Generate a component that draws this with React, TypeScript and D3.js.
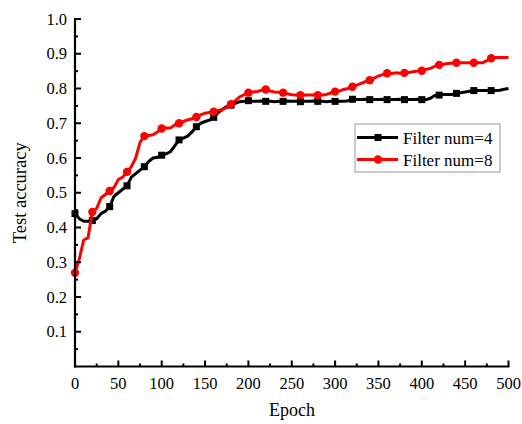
import React from "react";
import * as d3 from "d3";

const epochs: number[] = d3.range(0, 501, 5);

const filter4: number[] = [
  0.44, 0.425, 0.418, 0.418, 0.42, 0.425, 0.44, 0.447, 0.46, 0.49,
  0.5, 0.51, 0.52, 0.545, 0.555, 0.565, 0.575, 0.59, 0.6, 0.602,
  0.608, 0.612, 0.618, 0.635, 0.652, 0.657, 0.663, 0.675, 0.69, 0.7,
  0.705, 0.709, 0.717, 0.73, 0.74, 0.748, 0.752, 0.757, 0.762, 0.763,
  0.765, 0.763, 0.763, 0.764, 0.763, 0.763, 0.762, 0.763, 0.763, 0.764,
  0.763, 0.763, 0.762, 0.763, 0.763, 0.764, 0.763, 0.763, 0.762, 0.763,
  0.763, 0.763, 0.763, 0.765, 0.769, 0.768, 0.768, 0.769, 0.768, 0.768,
  0.768, 0.769, 0.768, 0.768, 0.768, 0.769, 0.768, 0.768, 0.768, 0.769,
  0.768, 0.768, 0.772, 0.78, 0.781, 0.783, 0.783, 0.783, 0.786, 0.788,
  0.79, 0.792, 0.794, 0.794, 0.794, 0.794, 0.794, 0.794, 0.795, 0.798,
  0.8,
];

const filter8: number[] = [
  0.27, 0.31, 0.364, 0.37, 0.445, 0.455, 0.485, 0.495, 0.505, 0.515,
  0.538, 0.545, 0.56, 0.575, 0.6, 0.645, 0.663, 0.665, 0.667, 0.675,
  0.685, 0.686, 0.686, 0.695, 0.7, 0.705, 0.71, 0.713, 0.718, 0.724,
  0.729, 0.731, 0.733, 0.737, 0.74, 0.745, 0.755, 0.765, 0.776, 0.782,
  0.788, 0.79, 0.791, 0.795, 0.797, 0.793, 0.79, 0.789, 0.788, 0.785,
  0.782, 0.781, 0.781, 0.781, 0.781, 0.781, 0.781, 0.781, 0.783, 0.787,
  0.791, 0.793, 0.797, 0.8, 0.805, 0.81, 0.815, 0.82, 0.824, 0.83,
  0.836, 0.84, 0.844, 0.843, 0.845, 0.844, 0.845, 0.846, 0.848, 0.85,
  0.851, 0.855, 0.858, 0.864, 0.868, 0.87, 0.872, 0.873, 0.874, 0.874,
  0.874, 0.874, 0.874, 0.874, 0.874, 0.88, 0.887, 0.889, 0.889, 0.889,
  0.889,
];

const seriesNames: string[] = ["Filter num=4", "Filter num=8"];
const xTicks: number[] = d3.range(0, 501, 50);
const yTicks: number[] = d3.range(1, 11).map((d) => d / 10);
const xMinor: number[] = d3.range(25, 500, 50);
const yMinor: number[] = d3.range(0, 10).map((d) => d / 10 + 0.05);

const W = 522;
const H = 424;
const left = 75;
const right = 508.5;
const top = 19;
const bottom = 366.5;
const font = "'Liberation Serif', 'Times New Roman', serif";

export default function App() {
  const x = d3.scaleLinear().domain([0, 500]).range([left, right]);
  const y = d3.scaleLinear().domain([0, 1]).range([bottom, top]);
  const line = d3
    .line<number>()
    .x((_, i) => x(epochs[i]))
    .y((d) => y(d));

  const markerIdx = epochs.map((e, i) => (e % 20 === 0 && e <= 480 ? i : -1)).filter((i) => i >= 0);

  const legendX = 355;
  const legendY = 124;

  return (
    <svg
      width={W}
      height={H}
      style={{ position: "absolute", left: 0, top: 0, background: "#fff" }}
      fontFamily={font}
    >
      {/* series */}
      <path d={line(filter4) || ""} fill="none" stroke="#000" strokeWidth={3} strokeLinejoin="round" />
      {markerIdx.map((i) => (
        <rect key={"b" + i} x={x(epochs[i]) - 3.5} y={y(filter4[i]) - 3.5} width={7} height={7} fill="#000" />
      ))}
      <path d={line(filter8) || ""} fill="none" stroke="#ff0000" strokeWidth={3} strokeLinejoin="round" />
      {markerIdx.map((i) => (
        <circle key={"r" + i} cx={x(epochs[i])} cy={y(filter8[i])} r={4.2} fill="#ff0000" />
      ))}

      {/* axes */}
      <line x1={left} x2={left} y1={top - 1} y2={bottom + 1} stroke="#000" strokeWidth={2.2} />
      <line x1={left - 1} x2={right + 1} y1={bottom} y2={bottom} stroke="#000" strokeWidth={2.2} />
      {xTicks.map((t) => (
        <g key={"xt" + t}>
          {t > 0 && <line x1={x(t)} x2={x(t)} y1={bottom} y2={bottom - 6} stroke="#000" strokeWidth={2} />}
          <text x={x(t)} y={bottom + 22} textAnchor="middle" fontSize={16.5}>
            {t}
          </text>
        </g>
      ))}
      {xMinor.map((t) => (
        <line key={"xm" + t} x1={x(t)} x2={x(t)} y1={bottom} y2={bottom - 3} stroke="#000" strokeWidth={2} />
      ))}
      {yTicks.map((t) => (
        <g key={"yt" + t}>
          <line x1={left} x2={left + 6} y1={y(t)} y2={y(t)} stroke="#000" strokeWidth={2} />
          <text x={67} y={y(t) + 5.5} textAnchor="end" fontSize={16.5}>
            {t.toFixed(1)}
          </text>
        </g>
      ))}
      {yMinor.map((t) => (
        <line key={"ym" + t} x1={left} x2={left + 3} y1={y(t)} y2={y(t)} stroke="#000" strokeWidth={2} />
      ))}

      <text x={292} y={416} textAnchor="middle" fontSize={18}>
        Epoch
      </text>
      <text transform={`translate(26, ${(top + bottom) / 2}) rotate(-90)`} textAnchor="middle" fontSize={18.5}>
        Test accuracy
      </text>

      {/* legend */}
      <rect x={legendX} y={legendY} width={145} height={48} fill="#fff" stroke="#999" strokeWidth={1} />
      {seriesNames.map((name, i) => {
        const cy = legendY + 13.5 + i * 22;
        const color = i === 0 ? "#000" : "#ff0000";
        return (
          <g key={name}>
            <line x1={357} x2={398} y1={cy} y2={cy} stroke={color} strokeWidth={3} />
            {i === 0 ? (
              <rect x={378 - 3.5} y={cy - 3.5} width={7} height={7} fill={color} />
            ) : (
              <circle cx={378} cy={cy} r={4.2} fill={color} />
            )}
            <text x={403} y={cy + 6} fontSize={17}>
              {name}
            </text>
          </g>
        );
      })}
    </svg>
  );
}
